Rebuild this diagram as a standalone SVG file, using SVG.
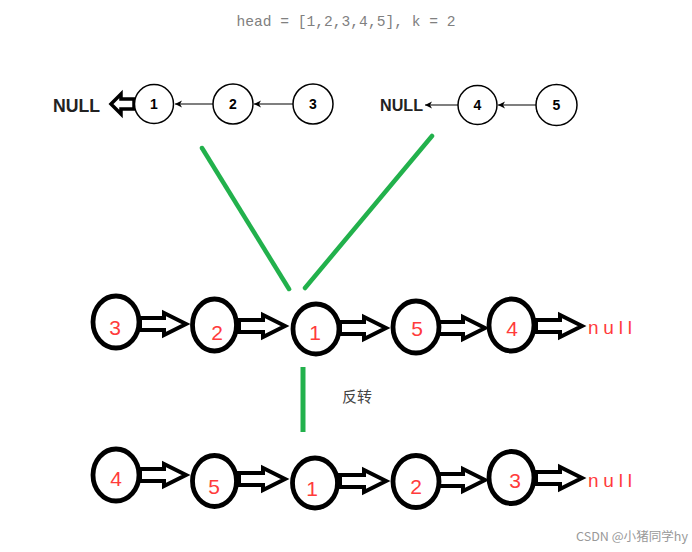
<svg xmlns="http://www.w3.org/2000/svg" width="692" height="552" viewBox="0 0 692 552">
<style>
.tn{fill:#fff;stroke:#000;stroke-width:1.5}
.tl{font-family:"Liberation Sans",Arial,sans-serif;font-size:14px;font-weight:bold;text-anchor:middle;dominant-baseline:central}
.thin{stroke:#000;stroke-width:1.2;fill:none}
.bn{fill:#fff;stroke:#000;stroke-width:4.8}
.bl{font-family:"Liberation Sans",Arial,sans-serif;font-size:21px;fill:#ff3b3b;text-anchor:middle;dominant-baseline:central}
.ha{fill:#fff;stroke:#000;stroke-width:4;stroke-linejoin:miter}
.null{font-family:"Liberation Sans",Arial,sans-serif;font-size:19px;fill:#ff3b3b;dominant-baseline:central}
.green{stroke:#22b14c;stroke-width:4.5;stroke-linecap:round;fill:none}
</style>
<defs>
<marker id="ah" markerWidth="8" markerHeight="8" refX="7" refY="4" orient="auto" markerUnits="userSpaceOnUse">
<path d="M0,0.5 L7,4 L0,7.5 L2,4 Z" fill="#000"/>
</marker>
<path id="hollow" d="M0,-6 L24,-6 L24,-11 L46,0 L24,11 L24,6 L0,6 Z"/>
</defs>

<text x="346" y="26" font-family="Liberation Mono,monospace" font-size="14.6" fill="#808080" text-anchor="middle">head = [1,2,3,4,5], k = 2</text>

<g id="connectors">
<line class="thin" x1="213" y1="104" x2="175" y2="104" marker-end="url(#ah)"/>
<line class="thin" x1="293" y1="104" x2="254" y2="104" marker-end="url(#ah)"/>
<line class="thin" x1="458" y1="105" x2="425" y2="105" marker-end="url(#ah)"/>
<line class="thin" x1="536" y1="105" x2="498" y2="105" marker-end="url(#ah)"/>
<line class="thin" x1="537" y1="98" x2="537" y2="112"/>
<path d="M111,104 L121,94 L121,99 L134,99 L134,109 L121,109 L121,114 Z" fill="#fff" stroke="#000" stroke-width="3.5"/>
<line class="green" x1="202" y1="148" x2="289" y2="289"/>
<line class="green" x1="432" y1="136" x2="305" y2="288"/>
<line x1="303" y1="367" x2="303" y2="432" stroke="#22b14c" stroke-width="5"/>
<use href="#hollow" class="ha" x="140" y="324"/>
<use href="#hollow" class="ha" x="239" y="326"/>
<use href="#hollow" class="ha" x="340" y="328"/>
<use href="#hollow" class="ha" x="439" y="328"/>
<use href="#hollow" class="ha" x="536" y="326"/>
<use href="#hollow" class="ha" x="140" y="475"/>
<use href="#hollow" class="ha" x="239" y="479"/>
<use href="#hollow" class="ha" x="340" y="481"/>
<use href="#hollow" class="ha" x="439" y="480"/>
<use href="#hollow" class="ha" x="536" y="478"/>
</g>

<g id="null-top-left"><text x="53" y="112" font-family="Liberation Sans,Arial,sans-serif" font-size="19" font-weight="bold" fill="#222" textLength="47" lengthAdjust="spacingAndGlyphs">NULL</text></g>
<g id="t1"><circle class="tn" cx="154" cy="104" r="19.5"/><text class="tl" x="154" y="104">1</text></g>
<g id="t2"><circle class="tn" cx="233" cy="104" r="20"/><text class="tl" x="233" y="104">2</text></g>
<g id="t3"><circle class="tn" cx="313" cy="104" r="20"/><text class="tl" x="313" y="104">3</text></g>
<g id="null-top-right"><text x="380" y="111" font-family="Liberation Sans,Arial,sans-serif" font-size="16" font-weight="bold" fill="#222" textLength="43" lengthAdjust="spacingAndGlyphs">NULL</text></g>
<g id="t4"><circle class="tn" cx="477.5" cy="105" r="19.5"/><text class="tl" x="477.5" y="105">4</text></g>
<g id="t5"><circle class="tn" cx="556.5" cy="105" r="20.5"/><text class="tl" x="556.5" y="105">5</text></g>

<g id="m3"><ellipse class="bn" cx="116" cy="322" rx="23" ry="26"/><text class="bl" x="115" y="327">3</text></g>
<g id="m2"><ellipse class="bn" cx="214.5" cy="325" rx="22" ry="26"/><text class="bl" x="217" y="332">2</text></g>
<g id="m1"><ellipse class="bn" cx="316" cy="329" rx="23" ry="25"/><text class="bl" x="315" y="332">1</text></g>
<g id="m5"><ellipse class="bn" cx="416" cy="327" rx="23" ry="26"/><text class="bl" x="417" y="328">5</text></g>
<g id="m4"><ellipse class="bn" cx="511.5" cy="325" rx="22.5" ry="26"/><text class="bl" x="512" y="328">4</text></g>
<g id="mnull"><text class="null" x="588" y="327" textLength="44" lengthAdjust="spacing">null</text></g>

<g id="label-reverse"><text x="342" y="402" font-family="Noto Sans CJK SC,sans-serif" font-size="15" fill="#444">反转</text></g>

<g id="b4"><ellipse class="bn" cx="116" cy="475" rx="23" ry="26"/><text class="bl" x="116" y="478">4</text></g>
<g id="b5"><ellipse class="bn" cx="214.5" cy="481" rx="22" ry="25.5"/><text class="bl" x="214" y="486">5</text></g>
<g id="b1"><ellipse class="bn" cx="315" cy="483" rx="22.5" ry="25"/><text class="bl" x="312" y="488">1</text></g>
<g id="b2"><ellipse class="bn" cx="416" cy="481.5" rx="23" ry="26"/><text class="bl" x="416" y="486">2</text></g>
<g id="b3"><ellipse class="bn" cx="511.5" cy="477.5" rx="22.5" ry="26"/><text class="bl" x="515" y="480">3</text></g>
<g id="bnull"><text class="null" x="588" y="480" textLength="44" lengthAdjust="spacing">null</text></g>

<text x="576" y="541" font-family="Noto Sans CJK SC,sans-serif" font-size="12" fill="#999" textLength="112" lengthAdjust="spacingAndGlyphs">CSDN @小猪同学hy</text>
</svg>
